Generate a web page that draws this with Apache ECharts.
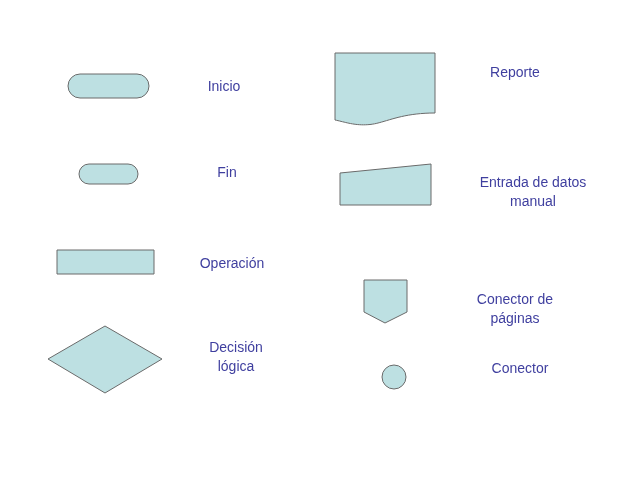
<!DOCTYPE html>
<html><head><meta charset="utf-8">
<script src="https://cdn.jsdelivr.net/npm/echarts@6/dist/echarts.min.js"></script>
<style>html,body{margin:0;padding:0;background:#fff}#c{width:640px;height:480px}</style>
</head><body><div id="c"></div>
<script>
const labels = ["Inicio","Fin","Operación","Decisión\nlógica","Reporte","Entrada de datos\nmanual","Conector de\npáginas","Conector"];
const labelPos = [[224,87],[227,173],[232,264],[236,358],[515,73],[533,193],[515,310],[520,369]];
const FILL = '#bde0e2', STROKE = '#6a6a6a';
const st = {fill: FILL, stroke: STROKE, lineWidth: 1};
function bez(p0,p1,p2,p3,n){const o=[];for(let i=0;i<=n;i++){const t=i/n,u=1-t;
  o.push([u*u*u*p0[0]+3*u*u*t*p1[0]+3*u*t*t*p2[0]+t*t*t*p3[0], u*u*u*p0[1]+3*u*u*t*p1[1]+3*u*t*t*p2[1]+t*t*t*p3[1]]);}return o;}
const wave = bez([435,113],[400,113],[385,123],[370,124.5],20).concat(bez([370,124.5],[355,126],[345,122],[335,120],20).slice(1));
const reportPts = [[335,53],[435,53]].concat(wave);
const shapes = [
  {type:'rect', shape:{x:68,y:74,width:81,height:24,r:12}, style:st},
  {type:'rect', shape:{x:79,y:164,width:59,height:20,r:10}, style:st},
  {type:'rect', shape:{x:57,y:250,width:97,height:24}, style:st},
  {type:'polygon', shape:{points:[[48,359],[105,326],[162,359],[105,393]]}, style:st},
  {type:'polygon', shape:{points:reportPts}, style:st},
  {type:'polygon', shape:{points:[[340,173],[431,164],[431,205],[340,205]]}, style:st},
  {type:'polygon', shape:{points:[[364,280],[407,280],[407,312],[385,323],[364,312]]}, style:st},
  {type:'circle', shape:{cx:394,cy:377,r:12}, style:st}
];
const texts = labels.map((t,i)=>({type:'text', x:labelPos[i][0], y:labelPos[i][1],
  style:{text:t, fill:'#3f3f9f', font:'14px "Liberation Sans", Arial, sans-serif', align:'center', verticalAlign:'middle', lineHeight:19}}));
const chart = echarts.init(document.getElementById('c'));
chart.setOption({animation:false, graphic:{elements: shapes.concat(texts)}});
</script></body></html>
